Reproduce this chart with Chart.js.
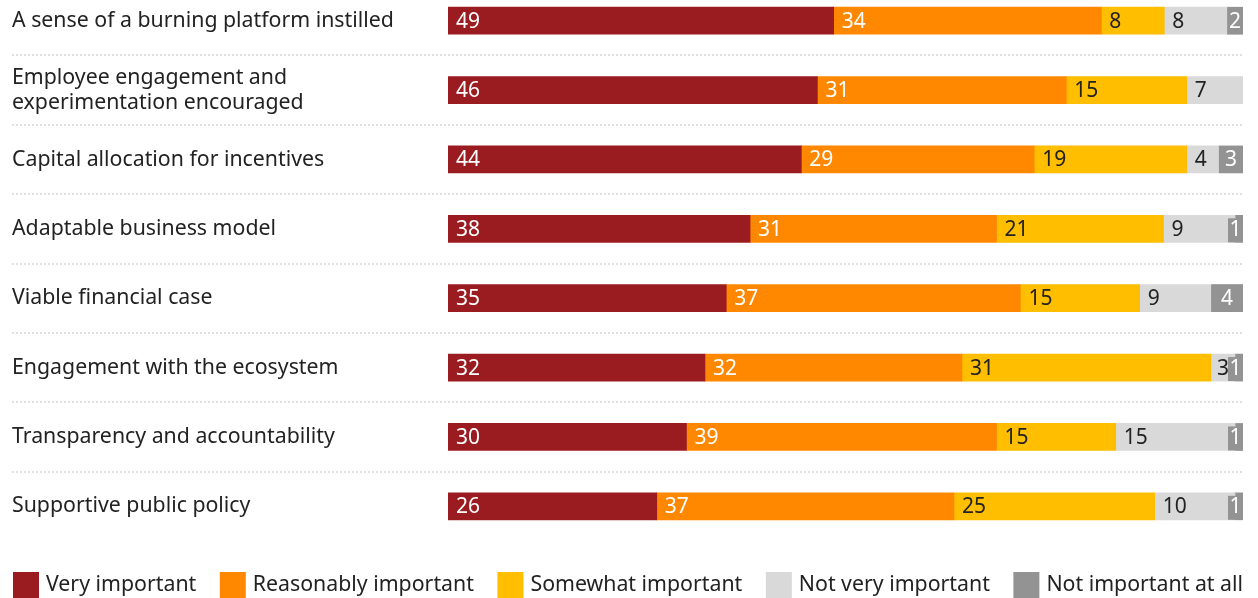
<!DOCTYPE html>
<html>
<head>
<meta charset="utf-8">
<script src="https://cdn.jsdelivr.net/npm/chart.js@4/dist/chart.umd.min.js"></script>
<style>
  html, body { margin: 0; padding: 0; background: #fff; overflow: hidden; }
  #wrap { position: absolute; left: 0; top: -14px; width: 1258px; height: 612px; }
</style>
</head>
<body>
<div id="wrap"><canvas id="chartFactors"></canvas></div>
<script>
// categories (top to bottom)
var factors = [
  "A sense of a burning platform instilled",
  ["Employee engagement and", "experimentation encouraged"],
  "Capital allocation for incentives",
  "Adaptable business model",
  "Viable financial case",
  "Engagement with the ecosystem",
  "Transparency and accountability",
  "Supportive public policy"
];

// answers, % of respondents
var veryImportant       = [49, 46, 44, 38, 35, 32, 30, 26];
var reasonablyImportant = [34, 31, 29, 31, 37, 32, 39, 37];
var somewhatImportant   = [8, 15, 19, 21, 15, 31, 15, 25];
var notVeryImportant    = [8, 7, 4, 9, 9, 3, 15, 10];
var notImportantAtAll   = [2, null, 3, 1, 4, 1, 1, 1];

var seriesNames = ["Very important", "Reasonably important", "Somewhat important", "Not very important", "Not important at all"];
var seriesValues = [veryImportant, reasonablyImportant, somewhatImportant, notVeryImportant, notImportantAtAll];
var seriesColors = ["#9b1c20", "#ff8800", "#ffbe00", "#d9d9d9", "#939393"];
var labelColors = ["#ffffff", "#ffffff", "#222222", "#222222", "#ffffff"];

var FONT = "'Noto Sans', sans-serif";
var TEXT_SIZE = 21.3;

// every bar runs to 100% of its row
var rowTotals = factors.map(function (f, j) {
  return seriesValues.reduce(function (s, arr) { return s + (arr[j] || 0); }, 0);
});

var datasets = seriesValues.map(function (arr, i) {
  return {
    label: seriesNames[i],
    data: arr.map(function (v, j) { return v == null ? null : v / rowTotals[j] * 100; }),
    backgroundColor: seriesColors[i],
    borderWidth: 0,
    barThickness: 27
  };
});

// numbers written inside the segments
var segmentLabels = {
  id: "segmentLabels",
  afterDatasetsDraw: function (chart) {
    var ctx = chart.ctx;
    ctx.save();
    ctx.font = "21px " + FONT;
    ctx.textBaseline = "middle";
    chart.data.datasets.forEach(function (ds, i) {
      var meta = chart.getDatasetMeta(i);
      meta.data.forEach(function (bar, j) {
        var v = seriesValues[i][j];
        if (!v) return;
        var txt = String(v);
        var tw = ctx.measureText(txt).width;
        var left = Math.min(bar.base, bar.x);
        var right = Math.max(bar.base, bar.x);
        var segW = right - left;
        var top = bar.y - bar.height / 2;
        var bottom = bar.y + bar.height / 2;
        if (i === 4) {
          var w = Math.max(segW, tw + 3);
          var t = w > segW + 1 ? top + 3 : top;
          ctx.fillStyle = seriesColors[i];
          ctx.fillRect(right - w, t, w, bottom - t);
          ctx.fillStyle = labelColors[i];
          ctx.textAlign = "center";
          ctx.fillText(txt, right - w / 2, bar.y + 1);
        } else {
          var pad = Math.max(3, Math.min(8, (segW - tw) / 2));
          ctx.fillStyle = labelColors[i];
          ctx.textAlign = "left";
          ctx.fillText(txt, left + pad, bar.y + 1);
        }
      });
    });
    ctx.restore();
  }
};

// legend row at the bottom, spread from the label column to the bar ends
var bottomLegend = {
  id: "bottomLegend",
  afterDraw: function (chart) {
    var ctx = chart.ctx;
    var box = 26, gapText = 7;
    var x0 = 13, x1 = chart.chartArea.right;
    var boxTop = chart.height - box;
    ctx.save();
    ctx.font = TEXT_SIZE + "px " + FONT;
    ctx.textBaseline = "middle";
    ctx.textAlign = "left";
    var widths = seriesNames.map(function (n) { return ctx.measureText(n).width; });
    var used = widths.reduce(function (s, w) { return s + w + box + gapText; }, 0);
    var gap = (x1 - x0 - used) / (seriesNames.length - 1);
    var x = x0;
    seriesNames.forEach(function (n, i) {
      ctx.fillStyle = seriesColors[i];
      ctx.fillRect(x, boxTop, box, box);
      ctx.fillStyle = "#222";
      ctx.fillText(n, x + box + gapText, boxTop + 13);
      x += box + gapText + widths[i] + gap;
    });
    ctx.restore();
  }
};

Chart.defaults.font.family = FONT;
Chart.defaults.font.size = TEXT_SIZE;
Chart.defaults.color = "#222";

var sepColor = function (c) { return c.index > 0 ? "#e0e0e0" : "transparent"; };

new Chart(document.getElementById("chartFactors").getContext("2d"), {
  type: "bar",
  data: { labels: factors, datasets: datasets },
  plugins: [segmentLabels, bottomLegend],
  options: {
    indexAxis: "y",
    responsive: true,
    maintainAspectRatio: false,
    animation: false,
    layout: { padding: { left: 12, right: 15, top: 0, bottom: 57 } },
    plugins: {
      tooltip: { enabled: false },
      legend: { display: false }
    },
    scales: {
      x: {
        display: false,
        stacked: true,
        min: 0,
        max: 100
      },
      y: {
        stacked: true,
        ticks: {
          crossAlign: "far",
          padding: 0,
          color: "#222",
          font: { size: TEXT_SIZE, family: FONT, lineHeight: 1.17 }
        },
        grid: {
          display: true,
          drawOnChartArea: true,
          drawTicks: true,
          tickLength: 436,
          lineWidth: 2,
          color: sepColor,
          tickColor: sepColor,
          tickBorderDash: [2, 2]
        },
        border: { display: false, dash: [2, 2] },
        afterFit: function (s) {
          s.width = 436;
          s.paddingTop = 0;
          s.paddingBottom = 0;
        }
      }
    }
  }
});
</script>
</body>
</html>
